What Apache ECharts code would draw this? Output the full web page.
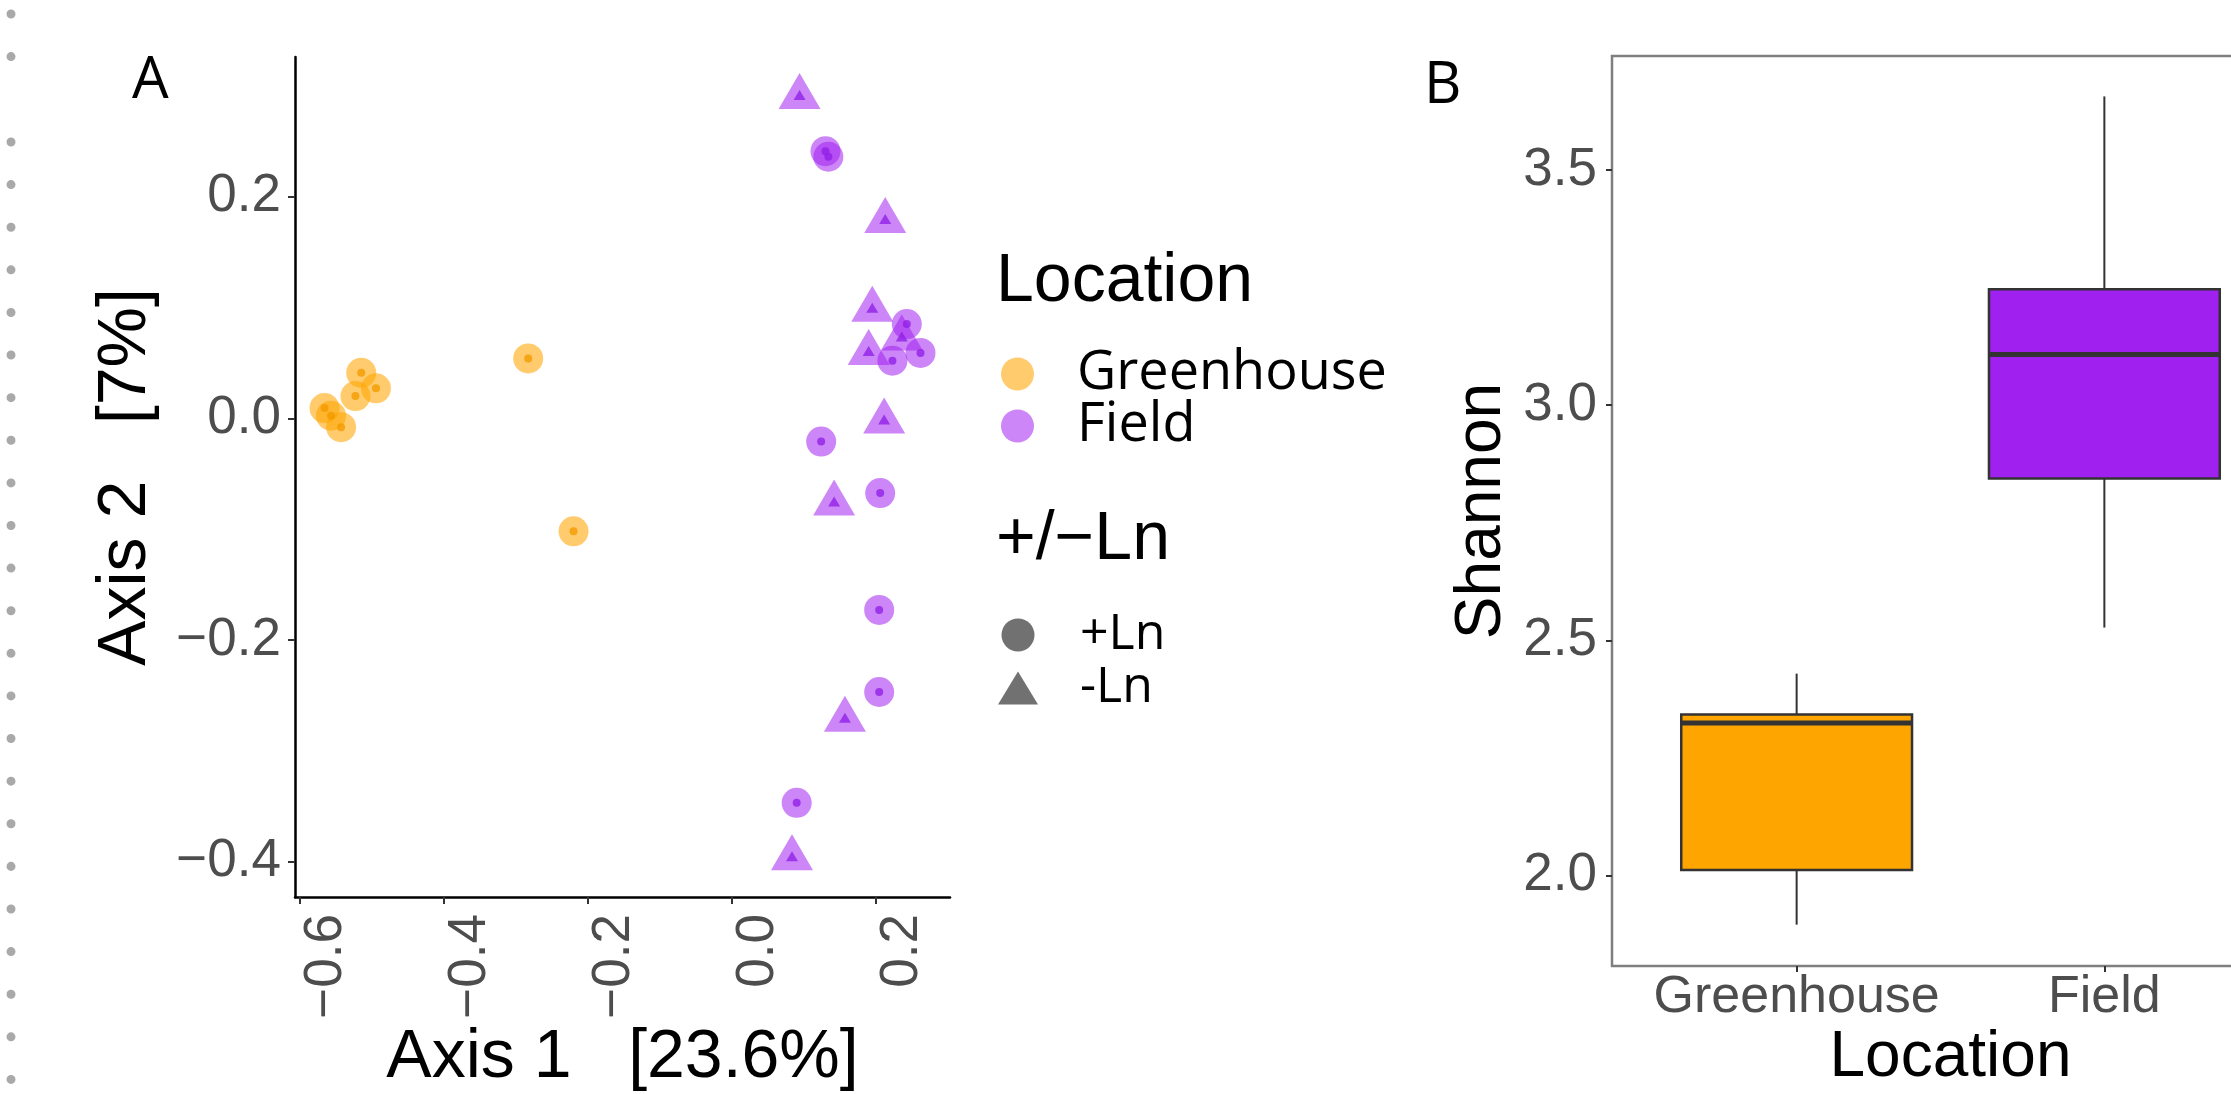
<!DOCTYPE html>
<html>
<head>
<meta charset="utf-8">
<script src="https://cdn.jsdelivr.net/npm/echarts@6/dist/echarts.min.js"></script>
<style>
  html, body { margin: 0; padding: 0; background: #fff; }
  #main { width: 2231px; height: 1094px; }
</style>
</head>
<body>
<div id="main"></div>
<script>
// PCoA coordinates [Axis 1, Axis 2]
const greenhousePlusLn = [
  [-0.515, 0.041], [-0.4945, 0.027], [-0.523, 0.020], [-0.566, 0.0092],
  [-0.557, 0.0023], [-0.543, -0.008], [-0.283, 0.054], [-0.220, -0.102]
];
const fieldPlusLn = [
  [0.130, 0.241], [0.134, 0.236], [0.243, 0.085], [0.223, 0.052], [0.262, 0.059],
  [0.124, -0.021], [0.206, -0.0675], [0.2046, -0.173], [0.2046, -0.247], [0.090, -0.347]
];
const fieldMinusLn = [
  [0.094, 0.290], [0.213, 0.178], [0.195, 0.098], [0.236, 0.072], [0.190, 0.059],
  [0.2115, -0.003], [0.142, -0.077], [0.157, -0.272], [0.0835, -0.397]
];

// Shannon boxplot: [min, Q1, median, Q3, max]
const boxCategories = ['Greenhouse', 'Field'];
const boxStats = [
  [1.895, 2.011, 2.324, 2.342, 2.429],
  [2.527, 2.844, 3.108, 3.247, 3.657]
];

const xTicksA = [-0.6, -0.4, -0.2, 0.0, 0.2];
const yTicksA = [-0.4, -0.2, 0.0, 0.2];
const yTicksB = [2.0, 2.5, 3.0, 3.5];

const ORANGE = 'rgba(255,165,0,0.72)';
const ORANGE_DOT = '#F29B00';
const PURPLE = 'rgba(160,32,240,0.68)';
const PURPLE_DOT = '#9120E6';
const boxColors = ['#FFA500', '#A020F0'];

const AXIS_FONT = 'Liberation Sans, Arial, sans-serif';
const NOTE_FONT = 'Open Sans, sans-serif';

function fmtTick(v) {
  return (v < 0 ? '\u2212' : '') + Math.abs(v).toFixed(1);
}

const chart = echarts.init(document.getElementById('main'));

const tickLabelA = { fontFamily: AXIS_FONT, fontSize: 53, color: '#4D4D4D' };

const option = {
  backgroundColor: '#fff',
  animation: false,
  title: [
    { text: 'A', left: 132, top: 52, padding: 0,
      textStyle: { fontFamily: NOTE_FONT, fontSize: 58, fontWeight: 'normal', color: '#000' } },
    { text: 'B', left: 1424, top: 57, padding: 0,
      textStyle: { fontFamily: NOTE_FONT, fontSize: 58, fontWeight: 'normal', color: '#000' } },
    { text: 'Location', left: 996, top: 248, padding: 0,
      textStyle: { fontFamily: AXIS_FONT, fontSize: 68, fontWeight: 'normal', color: '#000' } },
    { text: '+/\u2212Ln', left: 996, top: 506, padding: 0,
      textStyle: { fontFamily: AXIS_FONT, fontSize: 68, fontWeight: 'normal', color: '#000' } }
  ],
  legend: [
    {
      orient: 'vertical', left: 1001, top: 347, padding: 0,
      itemWidth: 33, itemHeight: 33, itemGap: -2, selectedMode: false,
      data: [{ name: 'Greenhouse', icon: 'circle' }, { name: 'Field', icon: 'circle' }],
      textStyle: { fontFamily: NOTE_FONT, fontSize: 54, color: '#000', padding: [0, 0, 0, 38] }
    },
    {
      orient: 'vertical', left: 998, top: 610, padding: 0,
      itemWidth: 40, itemHeight: 33, itemGap: 3, selectedMode: false,
      data: [
        { name: '+Ln', icon: 'circle', itemStyle: { color: '#4D4D4D' } },
        { name: '-Ln', icon: 'triangle', itemStyle: { color: '#4D4D4D' } }
      ],
      textStyle: { fontFamily: NOTE_FONT, fontSize: 50, color: '#000', padding: [0, 0, 0, 37] }
    }
  ],
  graphic: [
    { type: 'line', silent: true, shape: { x1: 11, y1: 14, x2: 11, y2: 60 },
      style: { stroke: '#A9A9A9', lineWidth: 9, lineCap: 'round', lineDash: [0.01, 42.6] } },
    { type: 'line', silent: true, shape: { x1: 11, y1: 142, x2: 11, y2: 1084 },
      style: { stroke: '#A9A9A9', lineWidth: 9, lineCap: 'round', lineDash: [0.01, 42.6] } }
  ],
  grid: [
    { left: 295, top: 57, width: 655, height: 840, containLabel: false, outerBoundsMode: 'none' },
    { left: 1612, top: 56, width: 677, height: 910, containLabel: false, outerBoundsMode: 'none',
      show: true, borderColor: '#7F7F7F', borderWidth: 2.5, backgroundColor: 'transparent' }
  ],
  xAxis: [
    {
      type: 'value', gridIndex: 0, min: -0.607, max: 0.303,
      name: 'Axis 1   [23.6%]', nameLocation: 'middle', nameGap: 127, nameMoveOverlap: false,
      nameTextStyle: { fontFamily: AXIS_FONT, fontSize: 68, color: '#000' },
      axisLine: { show: true, onZero: false, lineStyle: { color: '#000', width: 2.5 } },
      axisTick: { show: true, length: 7, lineStyle: { color: '#333', width: 2 }, customValues: xTicksA },
      axisLabel: Object.assign({ rotate: 90, margin: 17, verticalAlign: 'top', customValues: xTicksA, formatter: fmtTick }, tickLabelA),
      splitLine: { show: false }
    },
    {
      type: 'value', gridIndex: 1, min: 0.4, max: 2.6,
      name: 'Location', nameLocation: 'middle', nameGap: 60, nameMoveOverlap: false,
      nameTextStyle: { fontFamily: AXIS_FONT, fontSize: 64, color: '#000' },
      axisLine: { show: false },
      axisTick: { show: true, length: 6, lineStyle: { color: '#333', width: 2 }, customValues: [1, 2] },
      axisLabel: { customValues: [1, 2], margin: 6, fontFamily: AXIS_FONT, fontSize: 52, color: '#4D4D4D',
        formatter: function (v) { return boxCategories[Math.round(v) - 1]; } },
      splitLine: { show: false }
    }
  ],
  yAxis: [
    {
      type: 'value', gridIndex: 0, min: -0.432, max: 0.326,
      name: 'Axis 2   [7%]', nameLocation: 'middle', nameGap: 135, nameMoveOverlap: false,
      nameTextStyle: { fontFamily: AXIS_FONT, fontSize: 68, color: '#000' },
      axisLine: { show: true, onZero: false, lineStyle: { color: '#000', width: 2.5 } },
      axisTick: { show: true, length: 7, lineStyle: { color: '#333', width: 2 }, customValues: yTicksA },
      axisLabel: Object.assign({ margin: 14, customValues: yTicksA, formatter: fmtTick }, tickLabelA),
      splitLine: { show: false }
    },
    {
      type: 'value', gridIndex: 1, min: 1.807, max: 3.743,
      name: 'Shannon', nameLocation: 'middle', nameGap: 98, nameMoveOverlap: false,
      nameTextStyle: { fontFamily: AXIS_FONT, fontSize: 64, color: '#000' },
      axisLine: { show: false },
      axisTick: { show: true, length: 6, lineStyle: { color: '#333', width: 2 }, customValues: yTicksB },
      axisLabel: { margin: 15, customValues: yTicksB, fontFamily: AXIS_FONT, fontSize: 53, color: '#4D4D4D',
        formatter: function (v) { return v.toFixed(1); } },
      splitLine: { show: false }
    }
  ],
  series: [
    {
      name: 'Greenhouse', type: 'scatter', xAxisIndex: 0, yAxisIndex: 0,
      symbol: 'circle', symbolSize: 30, itemStyle: { color: ORANGE },
      data: greenhousePlusLn
    },
    {
      name: 'Field', type: 'scatter', xAxisIndex: 0, yAxisIndex: 0,
      symbol: 'circle', symbolSize: 30, itemStyle: { color: PURPLE },
      data: fieldPlusLn
    },
    {
      name: 'Field', type: 'scatter', xAxisIndex: 0, yAxisIndex: 0,
      symbol: 'triangle', symbolSize: [42, 36], symbolOffset: [0, -6], itemStyle: { color: PURPLE },
      data: fieldMinusLn
    },
    {
      name: '+Ln', type: 'scatter', xAxisIndex: 0, yAxisIndex: 0,
      symbol: 'circle', symbolSize: 8, itemStyle: { color: ORANGE_DOT },
      data: greenhousePlusLn
    },
    {
      name: '+Ln', type: 'scatter', xAxisIndex: 0, yAxisIndex: 0,
      symbol: 'circle', symbolSize: 8, itemStyle: { color: PURPLE_DOT },
      data: fieldPlusLn
    },
    {
      name: '-Ln', type: 'scatter', xAxisIndex: 0, yAxisIndex: 0,
      symbol: 'triangle', symbolSize: [12, 10], symbolOffset: [0, -2], itemStyle: { color: PURPLE_DOT },
      data: fieldMinusLn
    },
    {
      name: 'Shannon', type: 'custom', xAxisIndex: 1, yAxisIndex: 1,
      data: boxStats.map(function (s, i) { return [i + 1].concat(s); }),
      encode: { x: 0, y: [1, 2, 3, 4, 5] },
      renderItem: function (params, api) {
        const x = api.value(0);
        const lo = api.coord([x, api.value(1)]);
        const q1 = api.coord([x, api.value(2)]);
        const med = api.coord([x, api.value(3)]);
        const q3 = api.coord([x, api.value(4)]);
        const hi = api.coord([x, api.value(5)]);
        const w = api.size([0.75, 0])[0];
        return {
          type: 'group',
          children: [
            { type: 'line', shape: { x1: hi[0], y1: hi[1], x2: q3[0], y2: q3[1] }, style: { stroke: '#333', lineWidth: 2 } },
            { type: 'line', shape: { x1: q1[0], y1: q1[1], x2: lo[0], y2: lo[1] }, style: { stroke: '#333', lineWidth: 2 } },
            { type: 'rect', shape: { x: q3[0] - w / 2, y: q3[1], width: w, height: q1[1] - q3[1] },
              style: { fill: boxColors[params.dataIndex], stroke: '#333', lineWidth: 2.5 } },
            { type: 'line', shape: { x1: med[0] - w / 2, y1: med[1], x2: med[0] + w / 2, y2: med[1] },
              style: { stroke: '#333', lineWidth: 5 } }
          ]
        };
      }
    }
  ]
};

chart.setOption(option);
</script>
</body>
</html>
